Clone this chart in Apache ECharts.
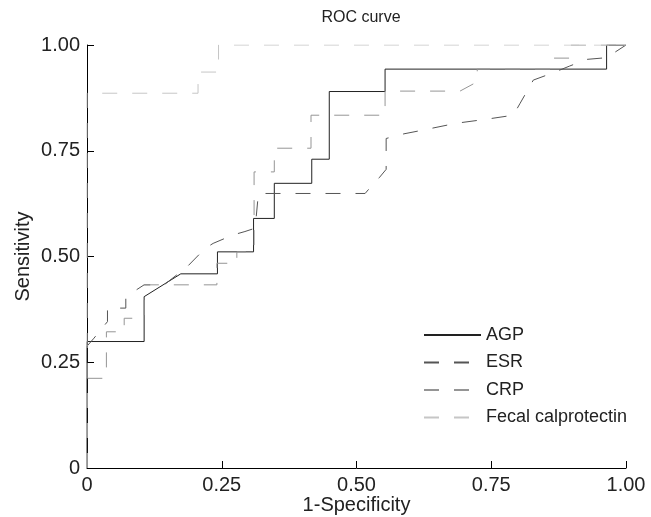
<!DOCTYPE html>
<html>
<head>
<meta charset="utf-8">
<script src="https://cdn.jsdelivr.net/npm/echarts@6/dist/echarts.min.js"></script>
<style>html,body{margin:0;padding:0;background:#fff}#c{width:651px;height:517px}</style>
</head>
<body>
<div id="c"></div>
<script>
var seriesNames = ['AGP', 'ESR', 'CRP', 'Fecal calprotectin'];
var xTicks = [0, 0.25, 0.5, 0.75, 1];
var tickLabels = ['0', '0.25', '0.50', '0.75', '1.00'];

var agp = [[0,0],[0,0.299],[0.106,0.299],[0.106,0.405],[0.174,0.459],[0.242,0.459],[0.242,0.511],[0.309,0.511],[0.309,0.590],[0.3475,0.590],[0.3475,0.673],[0.417,0.673],[0.417,0.730],[0.4495,0.730],[0.4495,0.890],[0.553,0.890],[0.553,0.943],[0.964,0.943],[0.964,1],[1,1]];

var esr = [[0,0],[0,0.288],[0.013,0.307],[0.025,0.326],[0.038,0.346],[0.038,0.378],[0.072,0.378],[0.072,0.405],[0.106,0.433],[0.143,0.433],[0.186,0.476],[0.219,0.519],[0.234,0.531],[0.271,0.551],[0.293,0.559],[0.312,0.567],[0.318,0.649],[0.516,0.649],[0.528,0.667],[0.542,0.686],[0.555,0.706],[0.555,0.779],[0.588,0.790],[0.624,0.799],[0.685,0.815],[0.738,0.824],[0.791,0.834],[0.803,0.861],[0.816,0.890],[0.828,0.917],[0.862,0.933],[0.895,0.950],[0.927,0.966],[0.964,0.970],[1,1]];

var crp = [[0,0],[0,0.212],[0.036,0.212],[0.036,0.322],[0.069,0.322],[0.069,0.354],[0.106,0.354],[0.106,0.433],[0.241,0.433],[0.241,0.484],[0.278,0.484],[0.278,0.511],[0.310,0.511],[0.310,0.700],[0.3475,0.700],[0.3475,0.756],[0.4156,0.756],[0.4156,0.834],[0.553,0.834],[0.553,0.891],[0.692,0.891],[0.724,0.913],[0.724,0.943],[0.865,0.943],[0.865,0.969],[0.896,0.969],[0.896,1],[1,1]];

var fecal = [[0,0],[0,0.886],[0.206,0.886],[0.206,0.936],[0.244,0.936],[0.244,1],[1,1]];

var FONT = '"Liberation Sans", Arial, sans-serif';
var colors = ['#222222', '#555555', '#959595', '#c6c6c6'];
var dashes = ['solid', [15, 15], [15, 15], [15, 15]];
var datasets = [agp, esr, crp, fecal];

function fmt(v) {
  var i = xTicks.indexOf(Math.round(v * 100) / 100);
  return i >= 0 ? tickLabels[i] : '';
}

var axisCommon = {
  type: 'value', min: 0, max: 1, interval: 0.25,
  axisLine: { show: true, lineStyle: { color: '#000', width: 1 } },
  axisTick: { show: true, inside: true, length: 7, lineStyle: { color: '#000' } },
  splitLine: { show: false },
  axisLabel: { formatter: fmt, color: '#222', fontFamily: FONT, fontSize: 20, margin: 7 },
  nameLocation: 'middle',
  nameMoveOverlap: false,
  nameTextStyle: { color: '#222', fontFamily: FONT, fontSize: 20 }
};

var chart = echarts.init(document.getElementById('c'), null, { renderer: 'canvas' });
chart.setOption({
  animation: false,
  backgroundColor: '#fff',
  title: {
    text: 'ROC curve', left: 356, top: 5, textAlign: 'center',
    textStyle: { color: '#222', fontFamily: FONT, fontSize: 16, fontWeight: 'normal' }
  },
  grid: { left: 87, right: 25, top: 45, bottom: 49, containLabel: false, outerBoundsMode: 'none' },
  xAxis: Object.assign({}, axisCommon, { name: '1-Specificity', nameGap: 27 }),
  yAxis: Object.assign({}, axisCommon, { name: 'Sensitivity', nameGap: 54 }),
  legend: {
    orient: 'vertical', left: 418, top: 321, itemWidth: 57, itemHeight: 16, itemGap: 9.5,
    itemStyle: { opacity: 0 },
    textStyle: { color: '#222', fontFamily: FONT, fontSize: 18 },
    data: seriesNames
  },
  series: datasets.map(function (d, i) {
    return {
      name: seriesNames[i], type: 'line', data: d, showSymbol: false, symbol: 'none',
      color: colors[i],
      lineStyle: { color: colors[i], width: 1, type: dashes[i] },
      z: 2 + i
    };
  })
});
</script>
</body>
</html>
